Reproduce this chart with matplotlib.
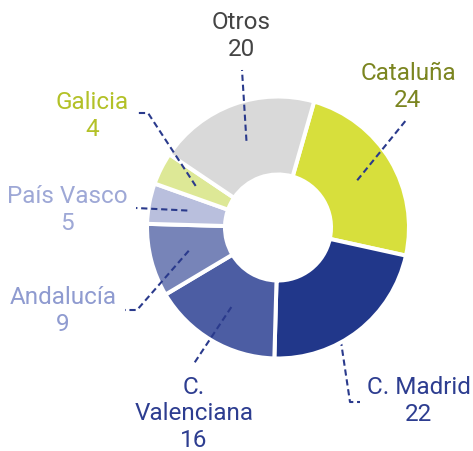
import numpy as np
import matplotlib.pyplot as plt

plt.rcParams['font.family'] = ['Roboto', 'DejaVu Sans']

# Data
regions = ['Cataluña', 'C. Madrid', 'C.\nValenciana', 'Andalucía', 'País Vasco', 'Galicia', 'Otros']
values = [24, 22, 16, 9, 5, 4, 20]
wedge_colors = ['#d7df3c', '#21378a', '#4c5da3', '#7784b8', '#b9bfdd', '#dde896', '#d9d9d9']
label_colors = ['#7b8520', '#2d3d90', '#2d3d90', '#8f9bd0', '#9ea8d6', '#b3c127', '#444444']

# label block centres and leader line elbows (pixel coords, y from top)
label_pos = [(408, 87), (419, 401), (194, 414), (63, 311), (67, 210), (92, 116), (241, 36)]
leader_pts = [
    [(407, 120)],
    [(350, 403), (360, 403)],
    [(193, 366)],
    [(137, 311), (125, 311)],
    [(136, 209)],
    [(148, 114), (138, 114)],
    [(242, 71)],
]

W, H = 473, 452
fig = plt.figure(figsize=(W / 100, H / 100), dpi=100)
ax = fig.add_axes([0, 0, 1, 1])

cx, cy = 278, H - 228.5
R = 131
wedges, _ = ax.pie(values, colors=wedge_colors, startangle=74, counterclock=False,
                   center=(cx, cy), radius=R,
                   wedgeprops=dict(width=78, edgecolor='white', linewidth=2.9))

line_col = '#2a3a8c'
for w, pts, pos, lab, v, col in zip(wedges, leader_pts, label_pos, regions, values, label_colors):
    mid = np.deg2rad((w.theta1 + w.theta2) / 2)
    x0 = cx + 0.715 * 129 * np.cos(mid)
    y0 = cy + 0.715 * 129 * np.sin(mid)
    xs = [x0] + [p[0] for p in pts]
    ys = [y0] + [H - p[1] for p in pts]
    z = 0.5 if lab == 'C. Madrid' else 3
    ax.plot(xs, ys, color=line_col, lw=1.5, ls=(0, (3, 1.8)), zorder=z)
    ax.text(pos[0], H - pos[1], f'{lab}\n{v}', color=col, fontsize=17.5,
            ha='center', va='center', linespacing=1.22, zorder=4)

ax.set_xlim(0, W)
ax.set_ylim(0, H)
ax.set_aspect('equal')
ax.axis('off')

fig.savefig('out.png', dpi=100)
